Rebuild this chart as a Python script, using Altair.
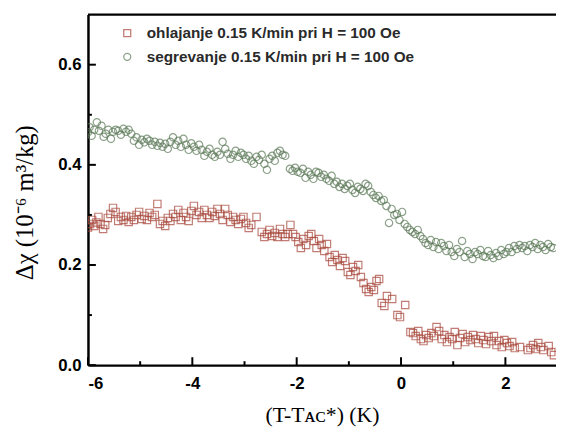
import altair as alt
import pandas as pd

# --- data ---
green_x = [-6.00, -5.97, -5.93, -5.88, -5.83, -5.79, -5.74, -5.70, -5.66, -5.61, -5.56, -5.52, -5.47, -5.42,
           -5.37, -5.32, -5.27, -5.22, -5.17, -5.12, -5.07, -5.02, -4.97, -4.92, -4.87, -4.82, -4.77, -4.72,
           -4.67, -4.62, -4.57, -4.52, -4.47, -4.42, -4.37, -4.32, -4.27, -4.22, -4.17, -4.12, -4.07, -4.02,
           -3.97, -3.92, -3.87, -3.82, -3.77, -3.72, -3.67, -3.62, -3.57, -3.52, -3.47, -3.42, -3.37, -3.32,
           -3.27, -3.22, -3.17, -3.12, -3.07, -3.02, -2.97, -2.92, -2.87, -2.82, -2.77, -2.72, -2.67, -2.62,
           -2.57, -2.52, -2.47, -2.42, -2.37, -2.32, -2.27, -2.22, -2.13, -2.08, -2.03, -1.98, -1.93, -1.88,
           -1.83, -1.78, -1.73, -1.68, -1.63, -1.58, -1.53, -1.48, -1.43, -1.38, -1.33, -1.28, -1.23, -1.18,
           -1.13, -1.08, -1.03, -0.98, -0.93, -0.88, -0.83, -0.78, -0.73, -0.68, -0.63, -0.58, -0.53, -0.48,
           -0.43, -0.38, -0.33, -0.28, -0.23, -0.18, -0.13, -0.08, -0.03, 0.02, 0.07, 0.12, 0.17, 0.22,
           0.27, 0.32, 0.37, 0.42, 0.47, 0.52, 0.57, 0.62, 0.67, 0.72, 0.77, 0.82, 0.87, 0.92,
           0.97, 1.02, 1.07, 1.12, 1.17, 1.22, 1.27, 1.32, 1.37, 1.42, 1.47, 1.52, 1.57, 1.62,
           1.67, 1.72, 1.77, 1.82, 1.87, 1.92, 1.97, 2.02, 2.07, 2.12, 2.17, 2.22, 2.27, 2.32,
           2.37, 2.42, 2.47, 2.52, 2.57, 2.62, 2.67, 2.72, 2.77, 2.82, 2.87, 2.92]
green_y = [0.465, 0.475, 0.458, 0.470, 0.485, 0.468, 0.478, 0.456, 0.462, 0.470, 0.452, 0.466, 0.470, 0.468,
           0.460, 0.472, 0.466, 0.470, 0.462, 0.448, 0.455, 0.440, 0.450, 0.445, 0.452, 0.448, 0.440, 0.446,
           0.438, 0.444, 0.436, 0.442, 0.432, 0.446, 0.455, 0.440, 0.448, 0.436, 0.452, 0.440, 0.430, 0.443,
           0.436, 0.428, 0.440, 0.430, 0.418, 0.426, 0.432, 0.420, 0.416, 0.426, 0.420, 0.446, 0.432, 0.422,
           0.412, 0.420, 0.428, 0.416, 0.424, 0.420, 0.412, 0.418, 0.408, 0.402, 0.416, 0.410, 0.420, 0.402,
           0.390, 0.412, 0.418, 0.408, 0.424, 0.428, 0.420, 0.418, 0.392, 0.388, 0.394, 0.386, 0.384, 0.392,
           0.374, 0.386, 0.380, 0.372, 0.386, 0.384, 0.376, 0.380, 0.372, 0.368, 0.378, 0.362, 0.366, 0.356,
           0.362, 0.352, 0.358, 0.362, 0.350, 0.344, 0.356, 0.352, 0.348, 0.362, 0.358, 0.346, 0.340, 0.334,
           0.338, 0.328, 0.330, 0.318, 0.284, 0.312, 0.300, 0.302, 0.290, 0.306, 0.282, 0.276, 0.270, 0.266,
           0.262, 0.270, 0.258, 0.252, 0.244, 0.240, 0.250, 0.236, 0.246, 0.232, 0.244, 0.238, 0.228, 0.240,
           0.226, 0.218, 0.232, 0.226, 0.248, 0.216, 0.228, 0.222, 0.212, 0.226, 0.222, 0.230, 0.218, 0.216,
           0.228, 0.220, 0.214, 0.224, 0.218, 0.230, 0.222, 0.226, 0.234, 0.226, 0.238, 0.232, 0.240, 0.234,
           0.238, 0.228, 0.240, 0.236, 0.244, 0.232, 0.240, 0.236, 0.230, 0.242, 0.236, 0.234]

red_x = [-6.00, -5.96, -5.92, -5.88, -5.84, -5.80, -5.76, -5.71, -5.67, -5.62, -5.57, -5.52, -5.47, -5.42,
         -5.37, -5.32, -5.27, -5.22, -5.17, -5.12, -5.07, -5.02, -4.97, -4.92, -4.87, -4.82, -4.77, -4.72,
         -4.67, -4.62, -4.57, -4.52, -4.47, -4.42, -4.37, -4.32, -4.27, -4.22, -4.17, -4.12, -4.07, -4.02,
         -3.97, -3.92, -3.87, -3.82, -3.77, -3.72, -3.67, -3.62, -3.57, -3.52, -3.47, -3.42, -3.37, -3.32,
         -3.27, -3.22, -3.17, -3.12, -3.07, -3.02, -2.97, -2.92, -2.87, -2.77, -2.67, -2.62, -2.57, -2.52,
         -2.47, -2.42, -2.37, -2.32, -2.27, -2.22, -2.17, -2.12, -2.07, -2.02, -1.97, -1.92, -1.87, -1.82,
         -1.77, -1.72, -1.67, -1.62, -1.57, -1.52, -1.47, -1.42, -1.37, -1.32, -1.27, -1.22, -1.17, -1.12,
         -1.07, -1.02, -0.97, -0.92, -0.87, -0.82, -0.77, -0.72, -0.67, -0.62, -0.57, -0.52, -0.47, -0.42,
         -0.37, -0.32, -0.27, -0.17, -0.07, -0.02, 0.08, 0.18, 0.23, 0.28, 0.33, 0.38, 0.43, 0.48,
         0.53, 0.58, 0.63, 0.68, 0.73, 0.78, 0.83, 0.88, 0.93, 0.98, 1.03, 1.08, 1.13, 1.18,
         1.23, 1.28, 1.33, 1.38, 1.43, 1.48, 1.53, 1.58, 1.63, 1.68, 1.73, 1.78, 1.83, 1.88,
         1.93, 1.98, 2.03, 2.08, 2.13, 2.18, 2.28, 2.43, 2.48, 2.53, 2.58, 2.63, 2.68, 2.73,
         2.83, 2.88, 2.93]
red_y = [0.275, 0.282, 0.290, 0.278, 0.285, 0.296, 0.282, 0.272, 0.280, 0.294, 0.302, 0.314, 0.306, 0.288,
         0.296, 0.290, 0.298, 0.286, 0.296, 0.290, 0.300, 0.306, 0.292, 0.298, 0.290, 0.304, 0.296, 0.300,
         0.322, 0.282, 0.288, 0.278, 0.294, 0.288, 0.302, 0.296, 0.310, 0.290, 0.304, 0.296, 0.288, 0.308,
         0.318, 0.300, 0.306, 0.294, 0.310, 0.300, 0.294, 0.306, 0.298, 0.312, 0.302, 0.290, 0.312, 0.300,
         0.286, 0.296, 0.290, 0.282, 0.292, 0.296, 0.284, 0.274, 0.280, 0.296, 0.266, 0.256, 0.262, 0.270,
         0.258, 0.264, 0.256, 0.272, 0.262, 0.256, 0.262, 0.280, 0.262, 0.256, 0.246, 0.234, 0.252, 0.240,
         0.258, 0.262, 0.248, 0.234, 0.252, 0.240, 0.228, 0.242, 0.216, 0.206, 0.220, 0.210, 0.198, 0.214,
         0.208, 0.186, 0.180, 0.196, 0.188, 0.200, 0.176, 0.164, 0.152, 0.146, 0.156, 0.150, 0.168, 0.172,
         0.124, 0.118, 0.138, 0.132, 0.100, 0.096, 0.120, 0.066, 0.064, 0.058, 0.068, 0.052, 0.048, 0.060,
         0.054, 0.064, 0.058, 0.076, 0.068, 0.052, 0.060, 0.046, 0.056, 0.052, 0.066, 0.040, 0.054, 0.062,
         0.046, 0.056, 0.050, 0.060, 0.052, 0.044, 0.058, 0.050, 0.042, 0.056, 0.048, 0.058, 0.040, 0.048,
         0.036, 0.050, 0.044, 0.038, 0.046, 0.034, 0.036, 0.030, 0.034, 0.040, 0.032, 0.044, 0.036, 0.030,
         0.038, 0.026, 0.020]

names = ["ohlajanje 0.15 K/min pri H = 100 Oe", "segrevanje 0.15 K/min pri H = 100 Oe"]
colors = ["#a8473b", "#5c7a58"]
shapes = ["square", "circle"]

x_major = [-6, -4, -2, 0, 2]
x_minor = [-5, -3, -1, 1]
y_major = [0.0, 0.2, 0.4, 0.6]
y_minor = [0.1, 0.3, 0.5]
y_top = [0.7]

x_title = "(T-T\u1d00\u1d04*) (K)"
y_title = "\u0394\u03c7 (10\u207b\u2076 m\u00b3/kg)"

W, H = 474, 355
xs = alt.Scale(domain=[-6, 2.97], nice=False, zero=False)
ys = alt.Scale(domain=[0, 0.7], nice=False, zero=False)

x_axis = alt.Axis(values=x_major, labelExpr="'' + datum.value", title=x_title,
                  titleFont="Liberation Serif", titleFontSize=22,
                  titleFontWeight="normal", titlePadding=13)
y_axis = alt.Axis(values=y_major, format=".1f", title=y_title,
                  titleFont="Liberation Serif", titleFontSize=25,
                  titleFontWeight="normal", titleX=-51, titleY=190,
                  titleAnchor="middle")

df = pd.concat([
    pd.DataFrame({"x": red_x, "y": red_y, "series": names[0]}),
    pd.DataFrame({"x": green_x, "y": green_y, "series": names[1]}),
])

leg = alt.Legend(title=None, orient="none", legendX=32, legendY=11, labelLimit=0,
                 labelFont="Liberation Sans", labelFontSize=15.5, labelFontWeight="bold",
                 labelColor="#2a2a2a", symbolSize=50, symbolStrokeWidth=1.3, rowPadding=7,
                 labelOffset=12)

points = alt.Chart(df).mark_point(filled=False, size=55, strokeWidth=1.2, clip=True).encode(
    x=alt.X("x:Q", scale=xs, axis=x_axis),
    y=alt.Y("y:Q", scale=ys, axis=y_axis),
    color=alt.Color("series:N", scale=alt.Scale(domain=names, range=colors), legend=leg),
    shape=alt.Shape("series:N", scale=alt.Scale(domain=names, range=shapes), legend=leg),
)

top = alt.Chart(pd.DataFrame({"y": y_top})).mark_rule(color="black", strokeWidth=2.5).encode(
    y=alt.Y("y:Q", scale=ys, axis=y_axis))

xt_major = alt.Chart(pd.DataFrame({"x": x_major})).mark_rule(color="black", strokeWidth=2).encode(
    x=alt.X("x:Q", scale=xs, axis=x_axis), y=alt.value(H), y2=alt.value(H - 8))
xt_minor = alt.Chart(pd.DataFrame({"x": x_minor})).mark_rule(color="black", strokeWidth=2).encode(
    x=alt.X("x:Q", scale=xs, axis=x_axis), y=alt.value(H), y2=alt.value(H - 4))
yt_major = alt.Chart(pd.DataFrame({"y": y_major})).mark_rule(color="black", strokeWidth=2).encode(
    y=alt.Y("y:Q", scale=ys, axis=y_axis), x=alt.value(0), x2=alt.value(8))
yt_minor = alt.Chart(pd.DataFrame({"y": y_minor})).mark_rule(color="black", strokeWidth=2).encode(
    y=alt.Y("y:Q", scale=ys, axis=y_axis), x=alt.value(0), x2=alt.value(4))

chart = alt.layer(points, top, xt_major, xt_minor, yt_major, yt_minor).properties(
    width=W, height=H,
    autosize=alt.AutoSizeParams(type="none"),
    padding={"left": 81, "top": 4, "right": 0, "bottom": 64},
).configure_view(stroke=None).configure_axis(
    domainColor="black", domainWidth=2.5, ticks=False, grid=False,
    labelFont="Liberation Sans", labelFontWeight="bold", labelFontSize=17, labelColor="black",
    titleColor="black", labelPadding=7,
).configure_axisX(labelPadding=11)

chart.save("out.html", embed_options={"renderer": "svg", "actions": False})
